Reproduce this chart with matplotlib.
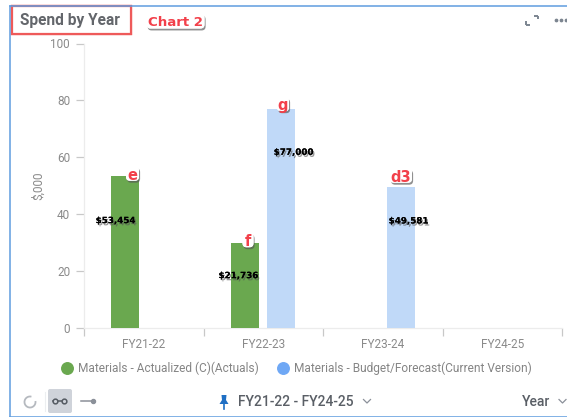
import matplotlib
matplotlib.use('Agg')
import matplotlib.pyplot as plt
import numpy as np
import matplotlib.patheffects as pe
from matplotlib.patches import Rectangle, FancyBboxPatch, Arc
from matplotlib.lines import Line2D

categories = ['FY21-22', 'FY22-23', 'FY23-24', 'FY24-25']
actuals = [53.454, 30, np.nan, np.nan]
budget = [np.nan, 77, 49.581, np.nan]
actuals_name = 'Materials - Actualized (C)(Actuals)'
budget_name = 'Materials - Budget/Forecast(Current Version)'
bar_labels = ['$53,454', '$21,736', '$77,000', '$49,581']
callouts = ['e', 'f', 'g', 'd3']

W, H = 567, 417
plt.rcParams['font.family'] = ['Roboto', 'DejaVu Sans']
fig = plt.figure(figsize=(W / 100, H / 100), dpi=100, facecolor='white')

# pixel overlay for the card chrome
ov = fig.add_axes([0, 0, 1, 1], zorder=5)
ov.set_xlim(0, W); ov.set_ylim(H, 0); ov.axis('off'); ov.patch.set_alpha(0)

L, R, T, B = 84, 562.3, 43.5, 328
ax = fig.add_axes([L / W, (H - B) / H, (R - L) / W, (B - T) / H], zorder=2)
x = np.arange(len(categories))
bw = 0.234
ax.bar(x - 0.155, actuals, bw, color='#6aa84f', zorder=3)
ax.bar(x + 0.15, budget, bw, color='#c0d9f8', zorder=3)
ax.set_xlim(-0.5, 3.5); ax.set_ylim(0, 100)
for s in ['top', 'right']:
    ax.spines[s].set_visible(False)
for s in ['left', 'bottom']:
    ax.spines[s].set_color('#ececec'); ax.spines[s].set_linewidth(0.9)
ax.set_yticks([0, 20, 40, 60, 80, 100])
ax.tick_params(axis='y', length=6, width=0.9, color='#c8c8c8', labelcolor='#8a8a8a', labelsize=8.5, pad=4)
ax.set_xticks(np.arange(-0.5, 4, 1))
ax.set_xticklabels([])
ax.tick_params(axis='x', which='major', length=6, width=0.9, color='#c8c8c8')
ax.set_xticks(x, minor=True)
ax.set_xticklabels(categories, minor=True)
ax.tick_params(axis='x', which='minor', length=0, labelcolor='#8a8a8a', labelsize=8.5, pad=7)

# legend
handles = [Line2D([], [], ls='', marker='o', ms=8.3, mfc='#6aa84f', mec='#6aa84f'),
           Line2D([], [], ls='', marker='o', ms=8.3, mfc='#6fa8f5', mec='#6fa8f5')]
leg = ov.legend(handles, [actuals_name, budget_name], ncol=2, frameon=False,
                loc='center left', bbox_to_anchor=(57.7, 368), bbox_transform=ov.transData,
                fontsize=8.6, labelcolor='#858585', handletextpad=0.14, columnspacing=1.2,
                borderpad=0, borderaxespad=0, handlelength=1.6)

# value labels
shadow = [pe.withSimplePatchShadow(offset=(1, -1.5), shadow_rgbFace='#555555', alpha=0.6), pe.Normal()]
for t, (px, py) in zip(bar_labels, [(115.5, 220.7), (238.5, 275.7), (293.5, 152.3), (408.5, 221)]):
    ov.text(px, py, t, family='DejaVu Sans', weight='bold', fontsize=6.3, color='black',
            ha='center', va='center', path_effects=shadow)

# red callouts
def callout(cx, cy, s, w, h, fs=10):
    ov.add_patch(FancyBboxPatch((cx - w / 2 + 3, cy - h / 2 + 3), w - 6, h - 6,
                                boxstyle='round,pad=3,rounding_size=4', fc='white', ec='none',
                                path_effects=[pe.withSimplePatchShadow(offset=(0.8, -1.4), shadow_rgbFace='#555555', alpha=0.65), pe.Normal()]))
    ov.text(cx, cy, s, family='DejaVu Sans', weight='bold', fontsize=fs, color='#f2404a', ha='center', va='center_baseline')

for s, c, w in zip(callouts, [(132.5, 173.5), (248, 240), (283, 104), (401, 175.5)], [13, 11, 12, 22]):
    callout(c[0], c[1], s, w, 14.5, 10.5)
callout(175.5, 21, 'Chart 2', 58, 15, 9.6)

# card border
ov.plot([9.5, 9.5], [5.5, 416.5], color='#5f9ddf', lw=1.1)
ov.plot([9.5, 567], [5.5, 5.5], color='#5f9ddf', lw=1.1)
ov.plot([9.5, 567], [416.5, 416.5], color='#5f9ddf', lw=1.1)

# title
ov.add_patch(Rectangle((11.5, 5.5), 119, 28.5, fc='white', ec='#ee5a5a', lw=1.6,
                       path_effects=[pe.withSimplePatchShadow(offset=(0.6, -1), shadow_rgbFace='#888888', alpha=0.5), pe.Normal()]))
ov.text(20, 20.5, 'Spend by Year', weight='bold', fontsize=11.2, color='#63666b', va='center', ha='left')

# top right icons
ic = '#7c8590'
for a, b in [((526, 21), (526, 25)), ((526, 25), (530, 25)), ((538, 19), (538, 15.5)), ((538, 15.5), (534, 15.5))]:
    ov.plot([a[0], b[0]], [a[1], b[1]], color=ic, lw=1.4, solid_capstyle='butt')
ov.plot([556, 561, 566], [20, 20, 20], ls='', marker='o', ms=1.7, color=ic)

# bottom controls
ov.add_patch(Arc((30, 402), 11, 11, theta1=-10, theta2=285, color='#b5b9bf', lw=1.3))
ov.plot([44.5, 44.5], [392, 411], color='#eceef0', lw=0.8)
ov.add_patch(FancyBboxPatch((49, 390), 22, 22, boxstyle='round,pad=1,rounding_size=2', fc='#cfd3da', ec='none'))
ov.plot([53, 66], [401, 401], color='#555b63', lw=1.1)
ov.plot([55, 63.5], [401, 401], ls='', marker='o', ms=3.4, mfc='#cfd3da', mec='#555b63', mew=1.1)
ov.plot([81, 95], [401, 401], color='#8b9099', lw=1.1)
ov.plot([92.5], [401], ls='', marker='o', ms=3, mfc='#8b9099', mec='#8b9099', mew=0.9)
# pin
ov.add_patch(plt.Polygon([[221.5, 395], [226.5, 395], [226, 400], [228.5, 404], [219.5, 404], [222, 400]], fc='#1f6fc4', ec='none'))
ov.plot([224, 224], [404, 408.5], color='#1f6fc4', lw=1.2)
ov.text(238.5, 401.5, 'FY21-22 - FY24-25', fontsize=10, weight='medium', color='#5a5f66', va='center', ha='left')
ov.plot([363.5, 367, 370.5], [399.5, 403, 399.5], color='#8b9099', lw=0.9)
ov.text(522, 401.5, 'Year', fontsize=10, weight='medium', color='#5a5f66', va='center', ha='left')
ov.plot([559, 562.5, 566], [399.5, 403, 399.5], color='#8b9099', lw=0.9)

# y-axis title
ov.text(38.5, 186, '$,000', rotation=90, fontsize=8.5, color='#8a8a8a', ha='center', va='center')

fig.savefig('out.png', dpi=100)
